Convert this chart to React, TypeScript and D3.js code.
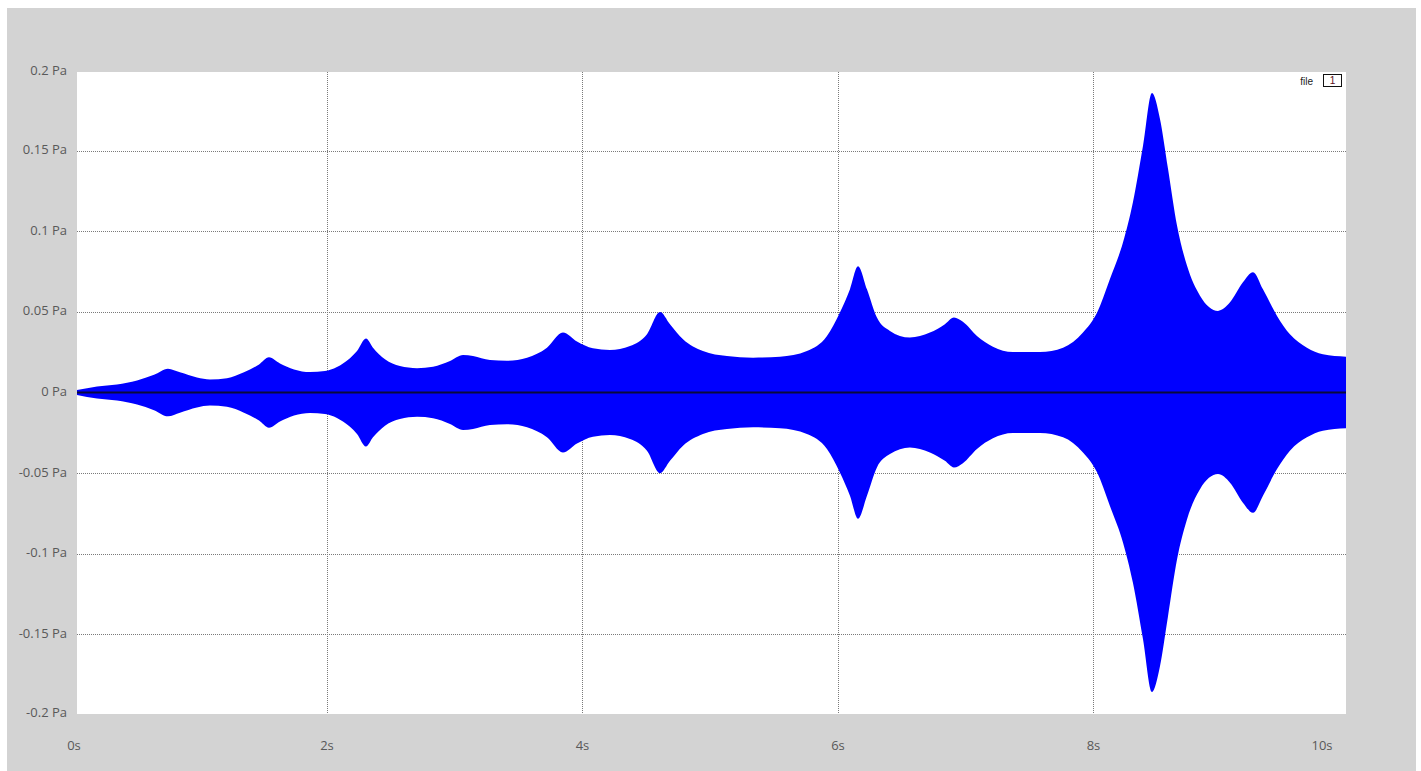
import React from "react";
import * as d3 from "d3";

// Envelope of the pressure waveform (seconds, Pa amplitude)
const times = [
  0.043, 0.2, 0.356, 0.513, 0.646, 0.755, 0.849, 0.982, 1.084, 1.217, 1.35, 1.468, 1.546, 1.632,
  1.742, 1.867, 1.984, 2.078, 2.125, 2.235, 2.305, 2.36, 2.454, 2.571, 2.705, 2.83, 2.963,
  3.065, 3.143, 3.276, 3.409, 3.566, 3.722, 3.847, 3.957, 4.082, 4.215, 4.372, 4.505, 4.607,
  4.685, 4.787, 4.943, 5.131, 5.335, 5.546, 5.757, 5.914, 6.016, 6.094, 6.157, 6.227, 6.305,
  6.407, 6.563, 6.72, 6.837, 6.908, 6.978, 7.088, 7.213, 7.37, 7.582, 7.762, 7.918, 8.028,
  8.129, 8.231, 8.309, 8.388, 8.458, 8.52, 8.583, 8.654, 8.732, 8.834, 8.975, 9.069, 9.17,
  9.249, 9.327, 9.437, 9.538, 9.671, 9.796, 9.977,
];
const amplitude = [
  0.0015, 0.0037, 0.005, 0.0075, 0.011, 0.0148, 0.0125, 0.0093, 0.0081, 0.0089, 0.0125, 0.0174,
  0.0218, 0.018, 0.0143, 0.0127, 0.0133, 0.0158, 0.018, 0.0257, 0.0335, 0.0278, 0.0206, 0.0164,
  0.0151, 0.016, 0.0195, 0.0232, 0.0226, 0.0201, 0.0197, 0.0216, 0.0278, 0.0372, 0.0316, 0.0274,
  0.0264, 0.0288, 0.0361, 0.05, 0.0424, 0.033, 0.0257, 0.0226, 0.0216, 0.0222, 0.0257, 0.035,
  0.0497, 0.064, 0.0783, 0.064, 0.0465, 0.0382, 0.0341, 0.0372, 0.0424, 0.0465, 0.0438, 0.035,
  0.0284, 0.0251, 0.0251, 0.0278, 0.0372, 0.0495, 0.0704, 0.093, 0.118, 0.153, 0.1857, 0.17,
  0.139, 0.1036, 0.0787, 0.06, 0.0506, 0.0559, 0.0683, 0.0746, 0.064, 0.0475, 0.0361, 0.0278,
  0.0237, 0.0222,
];

const xTickValues = [0, 2, 4, 6, 8, 10];
const xTickLabels = ["0s", "2s", "4s", "6s", "8s", "10s"];
const yTickValues = [0.2, 0.15, 0.1, 0.05, 0, -0.05, -0.1, -0.15, -0.2];
const yTickLabels = ["0.2 Pa", "0.15 Pa", "0.1 Pa", "0.05 Pa", "0 Pa", "-0.05 Pa", "-0.1 Pa", "-0.15 Pa", "-0.2 Pa"];
const legendLabel = "file";
const legendValue = "1";

export default function App() {
  const W = 1421;
  const H = 771;
  const left = 77;
  const right = 1346;
  const top = 72;
  const bottom = 714;

  const x = d3.scaleLinear().domain([0.043, 9.977]).range([left, right]);
  const y = d3.scaleLinear().domain([-0.2, 0.2]).range([715, 70]);

  const data = times.map((t, i) => ({ t, a: amplitude[i] }));
  const area = d3
    .area<{ t: number; a: number }>()
    .x((d) => x(d.t))
    .y0((d) => y(-d.a))
    .y1((d) => y(d.a))
    .curve(d3.curveMonotoneX);

  const font = "'Open Sans', 'Noto Sans', sans-serif";

  return (
    <svg
      width={W}
      height={H}
      style={{ position: "absolute", left: 0, top: 0, display: "block" }}
    >
      <rect x={0} y={0} width={W} height={H} fill="#ffffff" />
      <rect x={7} y={8} width={1409} height={H - 8} fill="#d3d3d3" />
      <rect x={left} y={top} width={right - left} height={bottom - top} fill="#ffffff" />

      {/* horizontal gridlines */}
      {yTickValues
        .filter((v) => v !== 0 && Math.abs(v) < 0.2)
        .map((v) => (
          <line
            key={"hy" + v}
            x1={left}
            x2={right}
            y1={Math.round(y(v)) + 0.5}
            y2={Math.round(y(v)) + 0.5}
            stroke="#7a7a7a"
            strokeWidth={1}
            strokeDasharray="1,1"
          />
        ))}
      {/* vertical gridlines */}
      {xTickValues
        .filter((v) => x(v) > left + 2 && x(v) < right - 2)
        .map((v) => (
          <line
            key={"vx" + v}
            x1={Math.round(x(v)) + 0.5}
            x2={Math.round(x(v)) + 0.5}
            y1={top}
            y2={bottom}
            stroke="#7a7a7a"
            strokeWidth={1}
            strokeDasharray="1,1"
          />
        ))}

      <path d={area(data) || ""} fill="#0000ff" />

      {/* zero line */}
      <line x1={left} x2={right} y1={y(0)} y2={y(0)} stroke="#0a0a3a" strokeWidth={2} />

      {/* y labels */}
      {yTickValues.map((v, i) => (
        <text
          key={"yl" + v}
          x={67}
          y={Math.min(Math.max(y(v), top), bottom)}
          textAnchor="end"
          dominantBaseline="middle"
          fontFamily={font}
          fontSize={13}
          fill="#595959"
        >
          {yTickLabels[i]}
        </text>
      ))}

      {/* x labels */}
      {xTickValues.map((v, i) => {
        const last = i === xTickValues.length - 1;
        const px = last ? Math.min(x(v), right - 24) : Math.max(x(v), 74);
        return (
          <text
            key={"xl" + v}
            x={px}
            y={747}
            textAnchor="middle"
            dominantBaseline="middle"
            fontFamily={font}
            fontSize={13}
            fill="#595959"
          >
            {xTickLabels[i]}
          </text>
        );
      })}

      {/* legend */}
      <text
        x={1313}
        y={82}
        textAnchor="end"
        dominantBaseline="middle"
        fontFamily="'Liberation Sans', Arial, sans-serif"
        fontSize={10}
        fill="#222"
      >
        {legendLabel}
      </text>
      <rect x={1323.5} y={74.5} width={18} height={12} fill="#ffffff" stroke="#111" strokeWidth={1} />
      <text
        x={1332.5}
        y={81}
        textAnchor="middle"
        dominantBaseline="middle"
        fontFamily="'Liberation Sans', Arial, sans-serif"
        fontSize={10}
        fill="#5a1020"
      >
        {legendValue}
      </text>
    </svg>
  );
}
